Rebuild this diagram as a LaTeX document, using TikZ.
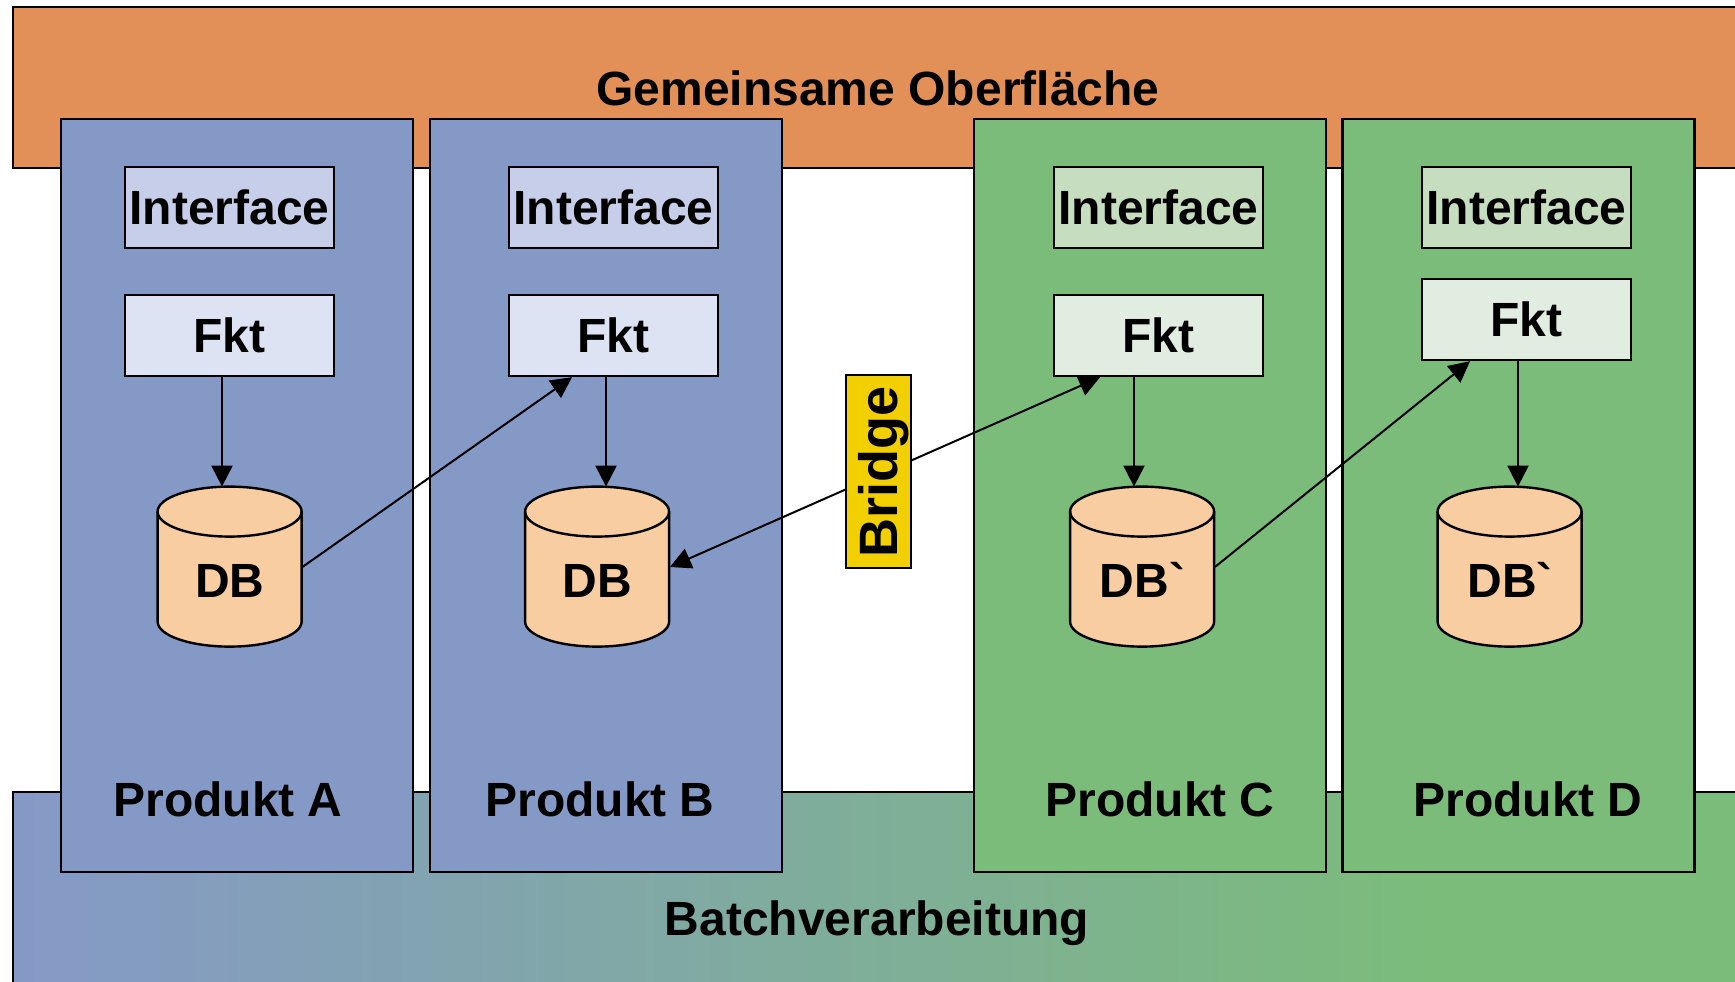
\documentclass[tikz,border=0pt]{standalone}
\usepackage{fontspec}
\setmainfont{Liberation Sans}[Ligatures=TeXOff]
\usetikzlibrary{arrows.meta,calc}
\definecolor{orangebar}{RGB}{226,144,88}
\definecolor{prodblue}{RGB}{133,153,199}
\definecolor{ifblue}{RGB}{199,206,233}
\definecolor{fktblue}{RGB}{222,227,243}
\definecolor{prodgreen}{RGB}{123,188,122}
\definecolor{ifgreen}{RGB}{199,221,192}
\definecolor{fktgreen}{RGB}{226,237,226}
\definecolor{dbfill}{RGB}{248,205,162}
\definecolor{bridgeyellow}{RGB}{242,208,0}
\pgfdeclarehorizontalshading{batchshade}{100bp}{color(0bp)=(prodblue); color(25bp)=(prodblue); color(65bp)=(prodgreen); color(100bp)=(prodgreen)}
\newcommand\txtfont{\bfseries\fontsize{24pt}{28pt}\selectfont}
\newcommand\dbcyl[1]{%
  \filldraw[fill=dbfill, draw=black, line width=1.2pt] (#1.north west) ++(0,-25) -- ++(0,-110)
    arc[start angle=180,end angle=360,x radius=72,y radius=25] -- ++(0,110)
    arc[start angle=0,end angle=180,x radius=72,y radius=25] -- cycle;
  \draw[line width=1.2pt] (#1.north west) ++(0,-25) arc[start angle=180,end angle=360,x radius=72,y radius=25];
}
\begin{document}
\begin{tikzpicture}[x=0.5pt,y=0.5pt,
  prod/.style={draw, line width=1.2pt, minimum width=176pt, minimum height=376.5pt, inner sep=0pt},
  box/.style={draw, line width=1.2pt, minimum width=104.5pt, minimum height=40.5pt, inner sep=0pt, font=\txtfont, text height=17.2pt, text depth=0pt},
  lbl/.style={font=\txtfont, text height=17.2pt, text depth=0pt, inner sep=0pt},
  dbnode/.style={minimum width=72pt, minimum height=80pt, inner sep=0pt},
  arr/.style={line width=1pt, -{Triangle[length=10.5pt,width=10.5pt]}},
  arrboth/.style={line width=1pt, {Triangle[length=10.5pt,width=10.5pt]}-{Triangle[length=10.5pt,width=10.5pt]}},
  bridgebox/.style={draw, line width=1.2pt, fill=bridgeyellow, rotate=90, minimum width=96.5pt, minimum height=32.5pt, inner sep=0pt, font=\bfseries\fontsize{27pt}{30pt}\selectfont, text height=19.3pt, text depth=0pt}
]
\useasboundingbox (0,0) rectangle (1735,-981);
% bars
\path[draw=black, line width=1.2pt, fill=orangebar] (13,-7) rectangle (1800,-168);
\shadedraw[shading=batchshade, draw=black, line width=1.2pt] (13,-792) rectangle (1800,-1000);
\node[lbl] (top) at (878,-88.5) {Gemeinsame Oberfläche};
\node[lbl] (batch) at (877,-918) {Batchverarbeitung};
% products
\node[prod, fill=prodblue] (pA) at (237,-495.5) {};
\node[prod, fill=prodblue] (pB) at (606,-495.5) {};
\node[prod, fill=prodgreen] (pC) at (1150,-495.5) {};
\node[prod, fill=prodgreen] (pD) at (1518.5,-495.5) {};
\node[lbl] (lA) at (228,-799) {Produkt A};
\node[lbl] (lB) at (600,-799) {Produkt B};
\node[lbl] (lC) at (1160,-799) {Produkt C};
\node[lbl] (lD) at (1528,-799) {Produkt D};
% interfaces
\node[box, fill=ifblue] (iA) at (229.5,-207.5) {Interface};
\node[box, fill=ifblue] (iB) at (613.5,-207.5) {Interface};
\node[box, fill=ifgreen] (iC) at (1158.5,-207.5) {Interface};
\node[box, fill=ifgreen] (iD) at (1526.5,-207.5) {Interface};
% functions
\node[box, fill=fktblue] (fA) at (229.5,-335.5) {Fkt};
\node[box, fill=fktblue] (fB) at (613.5,-335.5) {Fkt};
\node[box, fill=fktgreen] (fC) at (1158.5,-335.5) {Fkt};
\node[box, fill=fktgreen] (fD) at (1526.5,-319.5) {Fkt};
% databases
\node[dbnode] (dbA) at (230,-567) {};
\node[dbnode] (dbB) at (597.5,-567) {};
\node[dbnode] (dbC) at (1142.5,-567) {};
\node[dbnode] (dbD) at (1510,-567) {};
\dbcyl{dbA}
\dbcyl{dbB}
\dbcyl{dbC}
\dbcyl{dbD}
\node[lbl] (tA) at (230,-580) {DB};
\node[lbl] (tB) at (597.5,-580) {DB};
\node[lbl] (tC) at (1142.5,-580) {DB\symbol{96}};
\node[lbl] (tD) at (1510,-580) {DB\symbol{96}};
% connectors
\draw[arr] ($(fA.south)+(-7.5,0)$) -- ($(dbA.north)+(-8,0)$);
\draw[arr] ($(fB.south)+(-7.5,0)$) -- ($(dbB.north)+(8.5,0)$);
\draw[arr] ($(fC.south)+(-24.5,0)$) -- ($(dbC.north)+(-8.5,0)$);
\draw[arr] ($(fD.south)+(-8.5,0)$) -- ($(dbD.north)+(8,0)$);
\draw[arr] (dbA.east) -- ($(fB.south)+(-41.5,0)$);
\draw[arrboth] ($(fC.south)+(-58.5,0)$) -- (dbB.east);
\draw[arr] (dbC.east) -- ($(fD.south)+(-56.5,0)$);
% bridge
\node[bridgebox] (br) at (878.5,-471.5) {Bridge};
\end{tikzpicture}
\end{document}
